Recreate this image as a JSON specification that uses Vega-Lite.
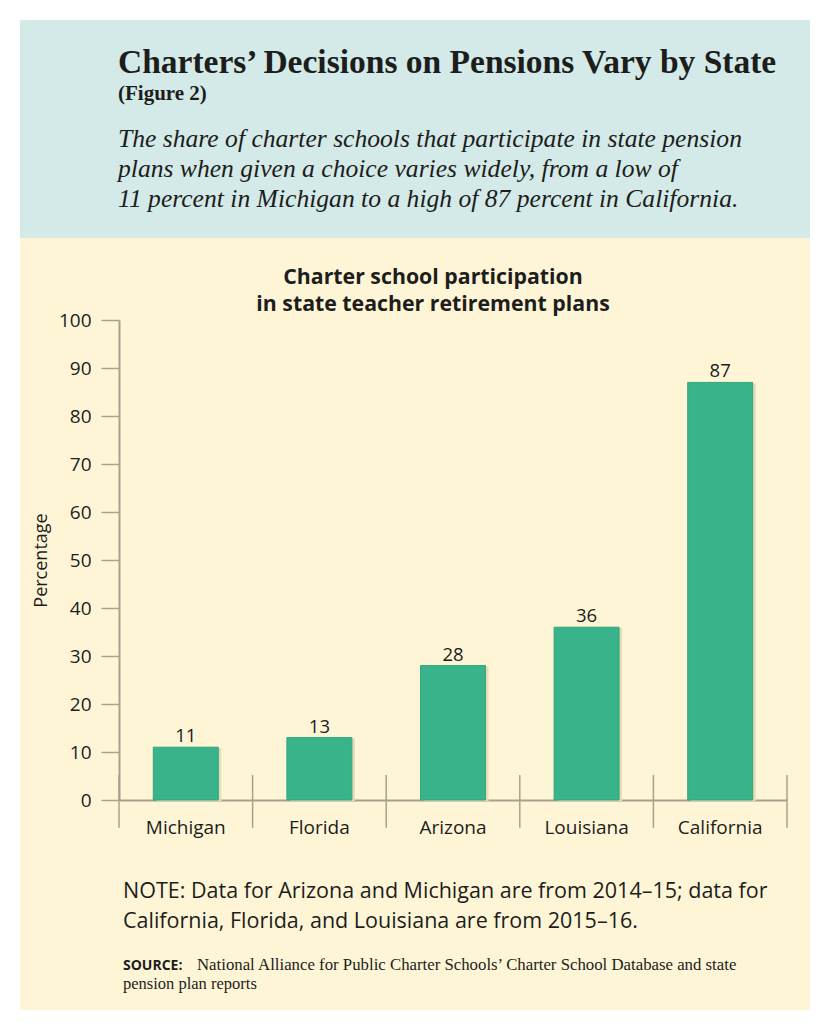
{
  "$schema": "https://vega.github.io/schema/vega-lite/v6.json",
  "width": 790,
  "height": 990,
  "autosize": {"type": "none"},
  "padding": {"left": 20, "top": 20, "right": 30, "bottom": 20},
  "background": "#ffffff",
  "view": {"fill": "#fef5d7", "stroke": null},
  "datasets": {
    "bars": [
      {"state": "Michigan", "value": 11},
      {"state": "Florida", "value": 13},
      {"state": "Arizona", "value": 28},
      {"state": "Louisiana", "value": 36},
      {"state": "California", "value": 87}
    ],
    "one": [{"k": "a"}]
  },
  "layer": [
    {
      "data": {"name": "one"},
      "mark": {"type": "rect", "color": "#d3eae8"},
      "encoding": {
        "y": {"datum": 162.5, "type": "quantitative"},
        "y2": {"datum": 117.08}
      }
    },
    {
      "data": {"name": "bars"},
      "mark": {"type": "bar", "color": "#e6dcb6", "width": {"band": 0.4865}, "xOffset": 3, "yOffset": 1},
      "encoding": {
        "x": {
          "field": "state",
          "type": "nominal",
          "scale": {
            "domain": ["Michigan", "Florida", "Arizona", "Louisiana", "California"],
            "range": [99, 767],
            "paddingInner": 0,
            "paddingOuter": 0
          },
          "axis": {
            "title": null,
            "orient": "bottom",
            "offset": -210,
            "ticks": false,
            "labelAngle": 0,
            "labelFont": "Open Sans",
            "labelFontSize": 19,
            "labelColor": "#1d1d1b",
            "labelPadding": 18.5,
            "domainColor": "#a8a08c",
            "domainWidth": 2,
            "grid": false
          }
        },
        "y": {
          "field": "value",
          "type": "quantitative",
          "scale": {"domain": [0, 100], "range": [780, 300], "nice": false},
          "axis": {
            "title": "Percentage",
            "orient": "left",
            "offset": -99,
            "values": [0, 10, 20, 30, 40, 50, 60, 70, 80, 90, 100],
            "grid": false,
            "tickSize": 18,
            "tickColor": "#a8a08c",
            "tickWidth": 1.5,
            "domainColor": "#a8a08c",
            "domainWidth": 2,
            "labelFont": "Open Sans",
            "labelFontSize": 19,
            "labelColor": "#1d1d1b",
            "labelPadding": 10,
            "titleFont": "Open Sans",
            "titleFontSize": 18,
            "titleFontWeight": "normal",
            "titleColor": "#1d1d1b",
            "titlePadding": 8
          }
        }
      }
    },
    {
      "data": {"name": "bars"},
      "mark": {"type": "bar", "color": "#39b389", "stroke": "#31a77d", "strokeWidth": 1, "width": {"band": 0.4865}},
      "encoding": {
        "x": {"field": "state", "type": "nominal"},
        "y": {"field": "value", "type": "quantitative"}
      }
    },
    {
      "data": {"name": "bars"},
      "mark": {"type": "text", "font": "Open Sans", "fontSize": 18.5, "color": "#1d1d1b", "baseline": "alphabetic", "dy": -5},
      "encoding": {
        "x": {"field": "state", "type": "nominal"},
        "y": {"field": "value", "type": "quantitative"},
        "text": {"field": "value", "type": "quantitative"}
      }
    },
    {
      "data": {"name": "bars"},
      "mark": {"type": "rule", "color": "#a8a08c", "strokeWidth": 1.5},
      "encoding": {
        "x": {"field": "state", "type": "nominal", "bandPosition": 0},
        "y": {"datum": 5.2},
        "y2": {"datum": -5.8}
      }
    },
    {
      "data": {"name": "bars"},
      "transform": [{"filter": "datum.state === 'California'"}],
      "mark": {"type": "rule", "color": "#a8a08c", "strokeWidth": 1.5},
      "encoding": {
        "x": {"field": "state", "type": "nominal", "bandPosition": 1},
        "y": {"datum": 5.2},
        "y2": {"datum": -5.8}
      }
    },
    {
      "data": {"name": "one"},
      "mark": {"type": "text", "text": "Charters’ Decisions on Pensions Vary by State", "font": "Liberation Serif", "fontSize": 33.5, "fontWeight": "bold", "align": "left", "baseline": "alphabetic", "color": "#1d1d1b", "dx": -1},
      "encoding": {"x": {"datum": "Michigan", "bandPosition": 0}, "y": {"datum": 151.5}}
    },
    {
      "data": {"name": "one"},
      "mark": {"type": "text", "text": "(Figure 2)", "font": "Liberation Serif", "fontSize": 21, "fontWeight": "bold", "align": "left", "baseline": "alphabetic", "color": "#1d1d1b", "dx": -1},
      "encoding": {"x": {"datum": "Michigan", "bandPosition": 0}, "y": {"datum": 145.83}}
    },
    {
      "data": {"name": "one"},
      "mark": {"type": "text", "text": ["The share of charter schools that participate in state pension", "plans when given a choice varies widely, from a low of", "11 percent in Michigan to a high of 87 percent in California."], "font": "Liberation Serif", "fontSize": 25.6, "fontStyle": "italic", "lineHeight": 29.7, "align": "left", "baseline": "alphabetic", "color": "#1d1d1b", "dx": -1},
      "encoding": {"x": {"datum": "Michigan", "bandPosition": 0}, "y": {"datum": 135.98}}
    },
    {
      "data": {"name": "one"},
      "mark": {"type": "text", "text": ["Charter school participation", "in state teacher retirement plans"], "font": "Open Sans", "fontSize": 21.3, "fontWeight": "bold", "lineHeight": 27, "align": "center", "baseline": "alphabetic", "color": "#1d1d1b", "dx": -20},
      "encoding": {"x": {"datum": "Arizona"}, "y": {"datum": 107.5}}
    },
    {
      "data": {"name": "one"},
      "mark": {"type": "text", "text": ["NOTE: Data for Arizona and Michigan are from 2014–15; data for", "California, Florida, and Louisiana are from 2015–16."], "font": "Open Sans", "fontSize": 21.5, "lineHeight": 30, "align": "left", "baseline": "alphabetic", "color": "#1d1d1b", "dx": 4},
      "encoding": {"x": {"datum": "Michigan", "bandPosition": 0}, "y": {"datum": -20.5}}
    },
    {
      "data": {"name": "one"},
      "mark": {"type": "text", "text": "SOURCE:", "font": "Open Sans", "fontSize": 14, "fontWeight": "bold", "letterSpacing": 0.8, "align": "left", "baseline": "alphabetic", "color": "#1d1d1b", "dx": 4},
      "encoding": {"x": {"datum": "Michigan", "bandPosition": 0}, "y": {"datum": -35.4}}
    },
    {
      "data": {"name": "one"},
      "mark": {"type": "text", "text": "National Alliance for Public Charter Schools’ Charter School Database and state", "font": "Liberation Serif", "fontSize": 16.8, "align": "left", "baseline": "alphabetic", "color": "#1d1d1b", "dx": 78},
      "encoding": {"x": {"datum": "Michigan", "bandPosition": 0}, "y": {"datum": -35.4}}
    },
    {
      "data": {"name": "one"},
      "mark": {"type": "text", "text": "pension plan reports", "font": "Liberation Serif", "fontSize": 16.5, "align": "left", "baseline": "alphabetic", "color": "#1d1d1b", "dx": 4},
      "encoding": {"x": {"datum": "Michigan", "bandPosition": 0}, "y": {"datum": -39.3}}
    }
  ]
}
